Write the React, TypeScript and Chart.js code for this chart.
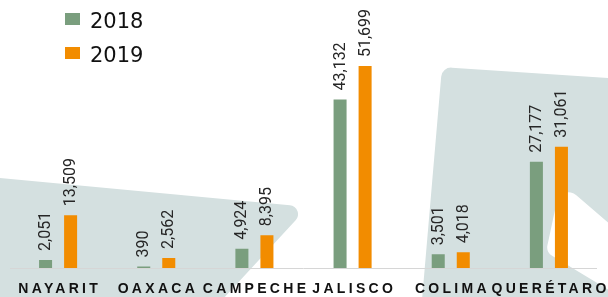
import React, { useEffect, useRef } from "react";
import { Chart, registerables } from "chart.js";

Chart.register(...registerables);

const categories = ["NAYARIT", "OAXACA", "CAMPECHE", "JALISCO", "COLIMA", "QUERÉTARO"];
const values2018 = [2051, 390, 4924, 43132, 3501, 27177];
const values2019 = [13509, 2562, 8395, 51699, 4018, 31061];
const seriesNames = ["2018", "2019"];

const GREEN = "#7a9e7e";
const ORANGE = "#f28c00";
const BG_SHAPE = "#d4e0e0";

function roundedPoly(ctx: CanvasRenderingContext2D, pts: number[][], radii: number[]) {
  const n = pts.length;
  ctx.beginPath();
  const first = pts[0];
  const last = pts[n - 1];
  ctx.moveTo((first[0] + last[0]) / 2, (first[1] + last[1]) / 2);
  for (let i = 0; i < n; i++) {
    const p = pts[i];
    const q = pts[(i + 1) % n];
    if (radii[i] > 0) ctx.arcTo(p[0], p[1], q[0], q[1], radii[i]);
    else ctx.lineTo(p[0], p[1]);
  }
  ctx.closePath();
  ctx.fill();
}

const backgroundPlugin = {
  id: "bgShapes",
  beforeDraw(chart: any) {
    const ctx = chart.ctx as CanvasRenderingContext2D;
    const w = chart.width;
    const h = chart.height;
    ctx.save();
    ctx.fillStyle = "#ffffff";
    ctx.fillRect(0, 0, w, h);
    ctx.fillStyle = BG_SHAPE;
    // left band
    roundedPoly(
      ctx,
      [
        [-20, 176],
        [308, 207],
        [222, 300],
        [-20, 300],
      ],
      [0, 9, 0, 0]
    );
    // right panel
    roundedPoly(
      ctx,
      [
        [442, 67],
        [640, 80],
        [640, 300],
        [422, 300],
      ],
      [10, 0, 0, 0]
    );
    // white cut-out inside right panel
    ctx.fillStyle = "#ffffff";
    roundedPoly(
      ctx,
      [
        [546, 252],
        [561, 182],
        [640, 250],
        [640, 300],
        [612, 292],
      ],
      [10, 12, 0, 0, 0]
    );
    ctx.restore();
  },
};

const axisLinePlugin = {
  id: "axisLine",
  beforeDatasetsDraw(chart: any) {
    const { ctx, chartArea } = chart;
    ctx.save();
    ctx.strokeStyle = "#d6d6d6";
    ctx.lineWidth = 1;
    ctx.beginPath();
    ctx.moveTo(chartArea.left + 1, Math.round(chartArea.bottom) + 0.5);
    ctx.lineTo(chartArea.right - 1, Math.round(chartArea.bottom) + 0.5);
    ctx.stroke();
    ctx.restore();
  },
};

const valueLabelPlugin = {
  id: "valueLabels",
  afterDatasetsDraw(chart: any) {
    const ctx = chart.ctx as CanvasRenderingContext2D;
    ctx.save();
    ctx.font = "16px Roboto";
    ctx.fillStyle = "#262626";
    ctx.textAlign = "left";
    ctx.textBaseline = "middle";
    chart.data.datasets.forEach((ds: any, di: number) => {
      const meta = chart.getDatasetMeta(di);
      meta.data.forEach((el: any, i: number) => {
        const v = ds.data[i] as number;
        ctx.save();
        ctx.translate(el.x + 0.5, el.y - 9);
        ctx.rotate(-Math.PI / 2);
        ctx.fillText(v.toLocaleString("en-US"), 0, 0);
        ctx.restore();
      });
    });
    ctx.restore();
  },
};

const categoryLabelPlugin = {
  id: "categoryLabels",
  afterDraw(chart: any) {
    const ctx = chart.ctx as any;
    const xScale = chart.scales.x;
    const spacing = 3.3;
    ctx.save();
    ctx.font = "bold 14px 'Liberation Sans'";
    ctx.letterSpacing = spacing + "px";
    ctx.fillStyle = "#111111";
    ctx.textAlign = "center";
    ctx.textBaseline = "alphabetic";
    chart.data.labels.forEach((lab: string, i: number) => {
      const x = xScale.getPixelForValue(i);
      ctx.fillText(lab, x + spacing / 2, 293);
    });
    ctx.restore();
  },
};

const legendPlugin = {
  id: "customLegend",
  afterDraw(chart: any) {
    const ctx = chart.ctx as CanvasRenderingContext2D;
    ctx.save();
    ctx.font = "21px 'DejaVu Sans'";
    ctx.textAlign = "left";
    ctx.textBaseline = "alphabetic";
    chart.data.datasets.forEach((ds: any, i: number) => {
      const top = 13 + i * 34;
      ctx.fillStyle = ds.backgroundColor;
      ctx.fillRect(65, top, 15, 12);
      ctx.fillStyle = "#111111";
      ctx.fillText(ds.label, 90, top + 14.5);
    });
    ctx.restore();
  },
};

export default function App() {
  const canvasRef = useRef<HTMLCanvasElement | null>(null);

  useEffect(() => {
    if (!canvasRef.current) return;
    const chart = new Chart(canvasRef.current, {
      type: "bar",
      data: {
        labels: categories,
        datasets: [
          {
            label: seriesNames[0],
            data: values2018,
            backgroundColor: GREEN,
            categoryPercentage: 0.51,
            barPercentage: 0.52,
          },
          {
            label: seriesNames[1],
            data: values2019,
            backgroundColor: ORANGE,
            categoryPercentage: 0.51,
            barPercentage: 0.52,
          },
        ],
      },
      options: {
        animation: false,
        responsive: false,
        maintainAspectRatio: false,
        devicePixelRatio: 1,
        layout: { padding: { left: 9, right: 10, top: 33.6, bottom: 29 } },
        scales: {
          x: { display: false },
          y: { display: false, min: 0, max: 60000 },
        },
        plugins: {
          legend: { display: false },
          tooltip: { enabled: false },
        },
      },
      plugins: [backgroundPlugin, axisLinePlugin, valueLabelPlugin, categoryLabelPlugin, legendPlugin],
    });
    return () => chart.destroy();
  }, []);

  return (
    <div style={{ position: "fixed", left: 0, top: 0, width: 608, height: 297 }}>
      <canvas ref={canvasRef} width={608} height={297} style={{ display: "block" }} />
    </div>
  );
}
